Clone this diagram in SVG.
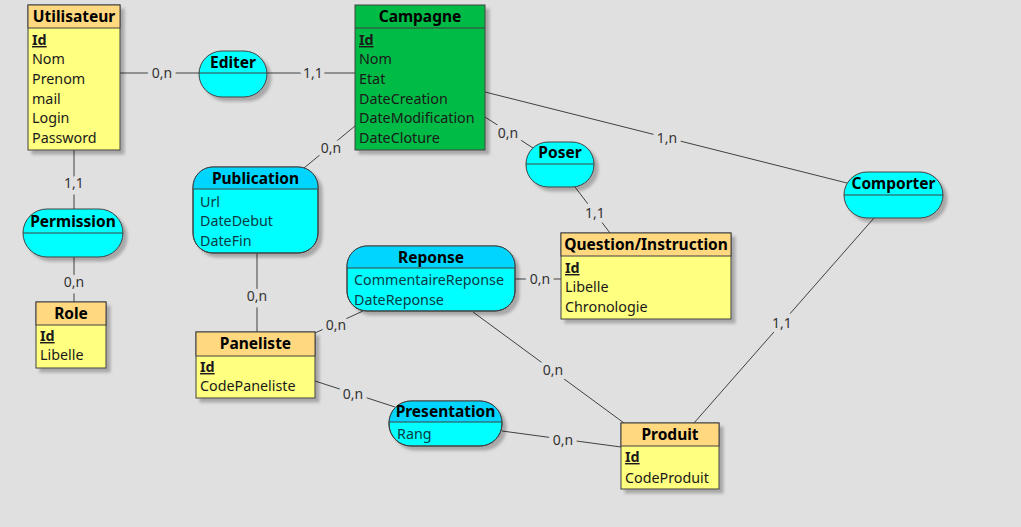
<svg xmlns="http://www.w3.org/2000/svg" width="1021" height="527" viewBox="0 0 1021 527">
<style>
text{font-family:"Noto Sans","Open Sans","DejaVu Sans",sans-serif;fill:#1a1a1a}
.t{font-size:15.5px;font-weight:bold;text-anchor:middle;fill:#000}
.a{font-size:14.3px}
.aa{font-size:14.3px;fill:#0a3a44}
.id{font-size:14.3px;font-weight:bold;text-decoration:underline}
.hd{fill:#ffd880;stroke:#404040;stroke-width:1}
.bd{fill:#ffff80;stroke:#404040;stroke-width:1}
.gr{fill:#00bb44;stroke:#404040;stroke-width:1}
.as{fill:#00ffff;stroke:#404040;stroke-width:1}
.ah{fill:#00d5ff}
.dv{stroke:#404040;stroke-width:1}
.sh{filter:url(#shadow)}
#connectors line{stroke:#404040;stroke-width:1}
#connectors text{font-size:14px;text-anchor:middle;fill:#333;stroke:#e0e0e0;stroke-width:9;stroke-linejoin:round;paint-order:stroke}
</style>
<defs>
<filter id="shadow" x="-10%" y="-10%" width="130%" height="130%">
<feDropShadow dx="4" dy="4" stdDeviation="1.5" flood-color="#000" flood-opacity="0.25"/>
</filter>
<clipPath id="cPub"><rect x="193" y="167" width="125" height="86" rx="20"/></clipPath>
<clipPath id="cRep"><rect x="347" y="246" width="168" height="65" rx="20"/></clipPath>
<clipPath id="cPre"><rect x="389" y="401" width="113" height="45" rx="22"/></clipPath>
</defs>
<rect x="0" y="0" width="1021" height="527" fill="#e0e0e0"/>

<g id="connectors">
<line x1="120" y1="73" x2="199" y2="73"/>
<line x1="267" y1="73" x2="355" y2="73"/>
<line x1="74" y1="150" x2="74" y2="209"/>
<line x1="74" y1="257" x2="74" y2="302"/>
<line x1="355" y1="126" x2="304" y2="168"/>
<line x1="485" y1="117" x2="533" y2="148"/>
<line x1="485" y1="92" x2="847" y2="183"/>
<line x1="575" y1="187" x2="610" y2="233"/>
<line x1="874" y1="218" x2="694" y2="423"/>
<line x1="257" y1="253" x2="257" y2="332"/>
<line x1="515" y1="279" x2="561" y2="279"/>
<line x1="315" y1="333" x2="363" y2="311"/>
<line x1="315" y1="381" x2="395" y2="407"/>
<line x1="473" y1="312" x2="624" y2="423"/>
<line x1="502" y1="431" x2="621" y2="447"/>
<text x="162" y="78">0,n</text>
<text x="313" y="78">1,1</text>
<text x="74" y="188">1,1</text>
<text x="74" y="287">0,n</text>
<text x="331" y="153">0,n</text>
<text x="508" y="138">0,n</text>
<text x="667" y="143">1,n</text>
<text x="595" y="218">1,1</text>
<text x="782" y="328">1,1</text>
<text x="257" y="301">0,n</text>
<text x="540" y="284">0,n</text>
<text x="336" y="330">0,n</text>
<text x="353" y="399">0,n</text>
<text x="553" y="375">0,n</text>
<text x="563" y="445">0,n</text>
</g>

<g id="Utilisateur">
<rect class="bd sh" x="28" y="5" width="92" height="145"/>
<rect class="hd" x="28" y="5" width="92" height="23"/>
<text class="t" x="74" y="22">Utilisateur</text>
<text class="id" x="32" y="45">Id</text>
<text class="a" x="32" y="64">Nom</text>
<text class="a" x="32" y="84">Prenom</text>
<text class="a" x="32" y="104">mail</text>
<text class="a" x="32" y="123">Login</text>
<text class="a" x="32" y="143">Password</text>
</g>

<g id="Campagne">
<rect class="gr sh" x="355" y="5" width="130" height="145"/>
<line class="dv" x1="355" y1="28" x2="485" y2="28"/>
<text class="t" x="420" y="22">Campagne</text>
<text class="id" x="359" y="45">Id</text>
<text class="a" x="359" y="64">Nom</text>
<text class="a" x="359" y="84">Etat</text>
<text class="a" x="359" y="104">DateCreation</text>
<text class="a" x="359" y="123">DateModification</text>
<text class="a" x="359" y="143">DateCloture</text>
</g>

<g id="Role">
<rect class="bd sh" x="36" y="302" width="70" height="66"/>
<rect class="hd" x="36" y="302" width="70" height="23"/>
<text class="t" x="71" y="319">Role</text>
<text class="id" x="40" y="341">Id</text>
<text class="a" x="40" y="360">Libelle</text>
</g>

<g id="QuestionInstruction">
<rect class="bd sh" x="561" y="233" width="170" height="86"/>
<rect class="hd" x="561" y="233" width="170" height="23"/>
<text class="t" x="646" y="250">Question/Instruction</text>
<text class="id" x="565" y="273">Id</text>
<text class="a" x="565" y="292">Libelle</text>
<text class="a" x="565" y="312">Chronologie</text>
</g>

<g id="Paneliste">
<rect class="bd sh" x="196" y="332" width="119" height="66"/>
<rect class="hd" x="196" y="332" width="119" height="24"/>
<text class="t" x="255.5" y="349">Paneliste</text>
<text class="id" x="200" y="372">Id</text>
<text class="a" x="200" y="391">CodePaneliste</text>
</g>

<g id="Produit">
<rect class="bd sh" x="621" y="423" width="98" height="66"/>
<rect class="hd" x="621" y="423" width="98" height="23"/>
<text class="t" x="670" y="440">Produit</text>
<text class="id" x="625" y="462">Id</text>
<text class="a" x="625" y="483">CodeProduit</text>
</g>

<g id="Editer">
<rect class="as sh" x="199" y="51" width="68" height="46" rx="23"/>
<line class="dv" x1="199" y1="73" x2="267" y2="73"/>
<text class="t" x="233" y="68">Editer</text>
</g>

<g id="Poser">
<rect class="as sh" x="526" y="142" width="68" height="45" rx="22"/>
<line class="dv" x1="526" y1="164" x2="594" y2="164"/>
<text class="t" x="560" y="158">Poser</text>
</g>

<g id="Comporter">
<rect class="as sh" x="844" y="172" width="99" height="46" rx="23"/>
<line class="dv" x1="844" y1="195" x2="943" y2="195"/>
<text class="t" x="893.5" y="189">Comporter</text>
</g>

<g id="Permission">
<rect class="as sh" x="23" y="209" width="100" height="48" rx="24"/>
<line class="dv" x1="23" y1="233" x2="123" y2="233"/>
<text class="t" x="73" y="227">Permission</text>
</g>

<g id="Publication">
<rect class="as sh" x="193" y="167" width="125" height="86" rx="20"/>
<rect class="ah" x="193" y="167" width="125" height="22" clip-path="url(#cPub)"/>
<rect x="193" y="167" width="125" height="86" rx="20" fill="none" stroke="#404040"/>
<line class="dv" x1="193" y1="189" x2="318" y2="189"/>
<text class="t" x="255.5" y="184">Publication</text>
<text class="aa" x="200" y="207">Url</text>
<text class="aa" x="200" y="226">DateDebut</text>
<text class="aa" x="200" y="246">DateFin</text>
</g>

<g id="Reponse">
<rect class="as sh" x="347" y="246" width="168" height="65" rx="20"/>
<rect class="ah" x="347" y="246" width="168" height="22" clip-path="url(#cRep)"/>
<rect x="347" y="246" width="168" height="65" rx="20" fill="none" stroke="#404040"/>
<line class="dv" x1="347" y1="268" x2="515" y2="268"/>
<text class="t" x="431" y="263">Reponse</text>
<text class="aa" x="354" y="285">CommentaireReponse</text>
<text class="aa" x="354" y="305">DateReponse</text>
</g>

<g id="Presentation">
<rect class="as sh" x="389" y="401" width="113" height="45" rx="22"/>
<rect class="ah" x="389" y="401" width="113" height="21" clip-path="url(#cPre)"/>
<rect x="389" y="401" width="113" height="45" rx="22" fill="none" stroke="#404040"/>
<line class="dv" x1="389" y1="422" x2="502" y2="422"/>
<text class="t" x="445.5" y="417">Presentation</text>
<text class="aa" x="397" y="439">Rang</text>
</g>
</svg>
